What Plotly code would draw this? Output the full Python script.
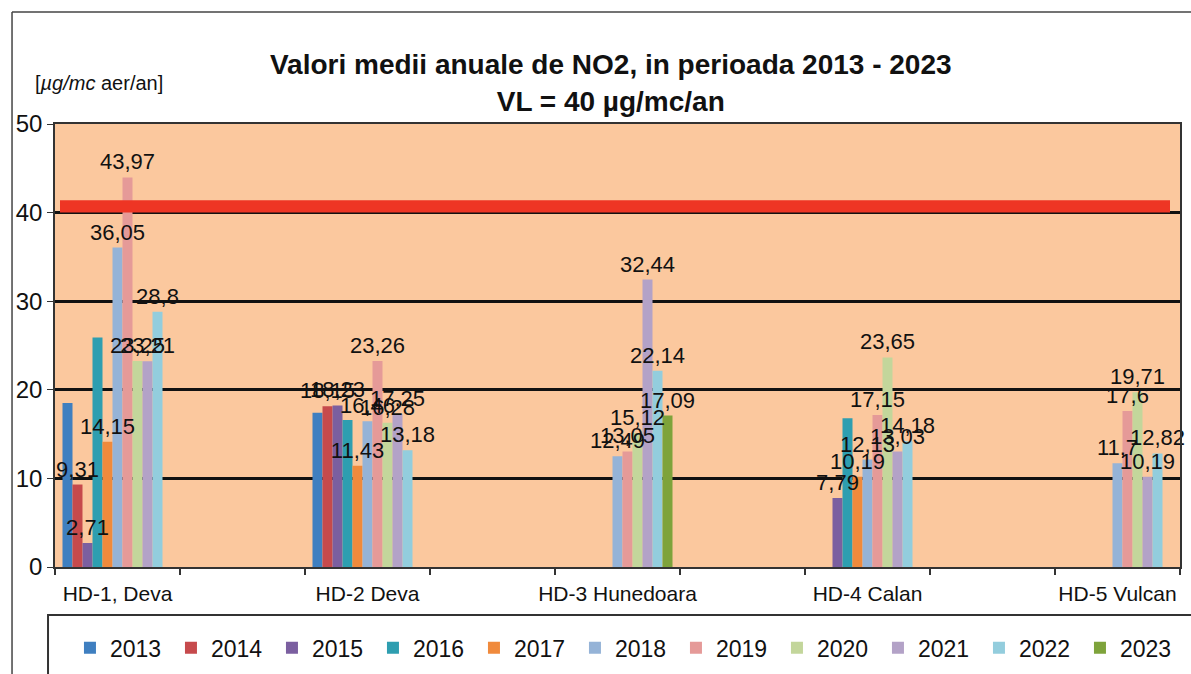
import plotly.graph_objects as go

stations = ["HD-1, Deva", "HD-2 Deva", "HD-3 Hunedoara", "HD-4 Calan", "HD-5 Vulcan"]
station_pos = [0, 2, 4, 6, 8]
years = ["2013", "2014", "2015", "2016", "2017", "2018", "2019", "2020", "2021", "2022", "2023"]

v2013 = [18.5, 17.4, None, None, None]
v2014 = [9.31, 18.15, None, None, None]
v2015 = [2.71, 18.23, None, 7.79, None]
v2016 = [25.9, 16.6, None, 16.8, None]
v2017 = [14.15, 11.43, None, 10.19, None]
v2018 = [36.05, 16.46, 12.49, 12.13, 11.7]
v2019 = [43.97, 23.26, 13.05, 17.15, 17.6]
v2020 = [23.25, 16.28, 15.12, 23.65, 19.71]
v2021 = [23.21, 17.25, 32.44, 13.03, 10.19]
v2022 = [28.8, 13.18, 22.14, 14.18, 12.82]
v2023 = [None, None, 17.09, None, None]
values = [v2013, v2014, v2015, v2016, v2017, v2018, v2019, v2020, v2021, v2022, v2023]
labelled = [False, True, True, False, True, True, True, True, True, True, True]

VL = 40
y_ticks = [0, 10, 20, 30, 40, 50]

colors = ["#3F7FC0", "#C64A4C", "#7B5FA0", "#2E9EB0", "#F08A3C", "#95B3D7",
          "#E59A98", "#C3D69B", "#B3A2C7", "#93CDDD", "#7EA33B"]

FONT = "Arial, Liberation Sans, sans-serif"

def fmt(v):
    return "" if v is None else f"{v:g}".replace(".", ",")

fig = go.Figure()
# bars
for yr, vals, col in zip(years, values, colors):
    fig.add_trace(go.Bar(name=yr, x=station_pos, y=vals, marker_color=col,
                         marker_line_width=0, xaxis="x", yaxis="y"))
# value labels on an overlaid copy so they sit above all bars
for yr, vals, lab in zip(years, values, labelled):
    fig.add_trace(go.Bar(
        name=yr, x=station_pos, y=vals, marker_color="rgba(0,0,0,0)", marker_line_width=0,
        text=[fmt(v) for v in vals] if lab else None,
        textposition="outside", textangle=0, constraintext="none", cliponaxis=False,
        textfont=dict(family=FONT, size=22, color="#111111"),
        showlegend=False, hoverinfo="skip", xaxis="x2", yaxis="y",
    ))

# limit value band
fig.add_shape(type="rect", xref="x", yref="y", x0=-0.46, x1=8.42, y0=VL, y1=VL + 1.4,
              fillcolor="#EE3524", line_width=0, layer="above")

# outer chart border (top and left)
fig.add_shape(type="line", xref="paper", yref="paper", x0=-0.0382, x1=1.1, y0=1.2528, y1=1.2528,
              line=dict(color="#444444", width=1.5))
fig.add_shape(type="line", xref="paper", yref="paper", x0=-0.0382, x1=-0.0382, y0=1.2528, y1=-0.3,
              line=dict(color="#444444", width=1.5))
# legend box
fig.add_shape(type="rect", xref="paper", yref="paper", x0=-0.0062, x1=1.05, y0=-0.35, y1=-0.1084,
              line=dict(color="#333333", width=2), fillcolor="white", layer="below")

fig.add_annotation(xref="paper", yref="paper", x=-0.0196, y=1.0926, xanchor="left", yanchor="middle",
                   text="[<i>µg/mc</i> aer/an]", showarrow=False,
                   font=dict(family=FONT, size=20, color="#111111"))

fig.update_layout(
    width=1191, height=674,
    paper_bgcolor="white", plot_bgcolor="#FBC89E",
    margin=dict(l=55, r=11, t=124, b=107, autoexpand=False),
    barmode="group", bargap=0.56, bargroupgap=0,
    title=dict(text="<b>Valori medii anuale de NO2, in perioada 2013 - 2023<br>VL = 40 µg/mc/an</b>",
               x=0.494, xref="paper", xanchor="center", y=0.89, yref="container", yanchor="top",
               font=dict(family=FONT, size=28, color="#111111")),
    showlegend=True,
    legend=dict(orientation="h", x=0.0133, xanchor="left", y=-0.134, yanchor="top",
                entrywidth=56, entrywidthmode="pixels", itemwidth=30,
                font=dict(family=FONT, size=23, color="#111111"), bgcolor="rgba(0,0,0,0)",
                traceorder="normal"),
    font=dict(family=FONT, color="#111111"),
    xaxis2=dict(overlaying="x", matches="x", visible=False, range=[-0.5, 8.5]),
)

fig.update_layout(xaxis=dict(
    range=[-0.5, 8.5], tickmode="array", tickvals=station_pos, ticktext=stations,
    ticks="", ticklabelstandoff=7, showgrid=False, zeroline=False, automargin=False,
    showline=True, linecolor="#333333", linewidth=1.5, mirror=True,
    tickfont=dict(family=FONT, size=21, color="#111111"),
    minor=dict(tickmode="linear", tick0=-0.5, dtick=1, ticks="outside", ticklen=6,
               tickcolor="#333333", tickwidth=1.5, showgrid=False),
))
fig.update_yaxes(
    range=[0, 50], tickmode="array", tickvals=y_ticks, automargin=False,
    ticks="outside", ticklen=6, tickcolor="#333333",
    showgrid=True, gridcolor="#111111", gridwidth=2.5, zeroline=False,
    showline=True, linecolor="#333333", linewidth=1.5, mirror=True,
    tickfont=dict(family=FONT, size=24, color="#111111"),
)

fig.write_html("out.html", config={"displayModeBar": False},
               post_script="document.body.style.margin='0';")
